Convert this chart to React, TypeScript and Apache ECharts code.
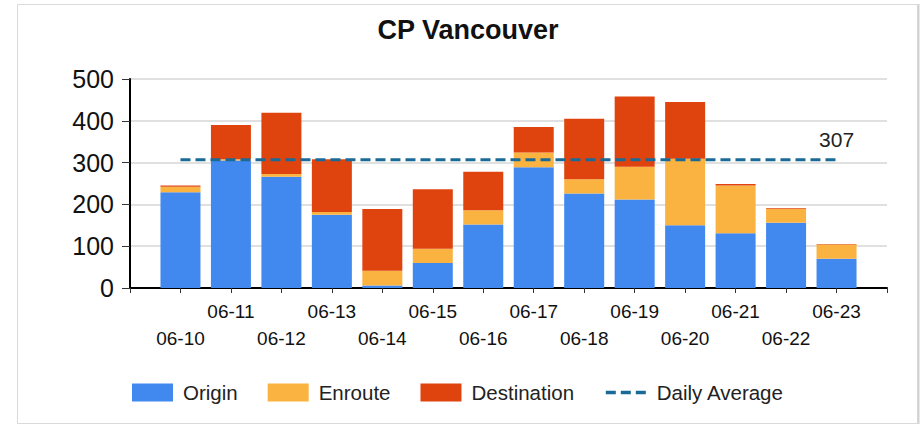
import React, { useEffect, useRef } from 'react';
import * as echarts from 'echarts';

const TITLE = 'CP Vancouver';
const dates = ['06-10', '06-11', '06-12', '06-13', '06-14', '06-15', '06-16', '06-17', '06-18', '06-19', '06-20', '06-21', '06-22', '06-23'];
const origin = [229, 305, 266, 175, 6, 60, 152, 289, 226, 212, 150, 131, 156, 70];
const enroute = [13, 3, 7, 7, 35, 34, 34, 35, 34, 78, 159, 114, 33, 34];
const destination = [3, 82, 146, 126, 148, 142, 92, 61, 145, 168, 136, 4, 2, 1];
const dailyAverage = 307;
const yMin = 0;
const yMax = 500;
const yInterval = 100;

const FONT = '"Liberation Sans", Arial, sans-serif';
const COLORS = { origin: '#4289ef', enroute: '#fab341', destination: '#e0440e', avg: '#1a6a97' };

export default function App() {
  const ref = useRef<HTMLDivElement>(null);

  useEffect(() => {
    if (!ref.current) return;
    const chart = echarts.init(ref.current, null, { renderer: 'svg' });

    const categories = ['', ...dates, ''];
    const pad = (arr: any[]) => ['-', ...arr, '-'];
    const avgData = pad(dates.map(() => dailyAverage));

    const option: any = {
      animation: false,
      backgroundColor: '#fff',
      title: {
        text: TITLE,
        left: 468,
        textAlign: 'center',
        top: 16,
        padding: 0,
        textStyle: { fontFamily: FONT, fontSize: 27, fontWeight: 'bold', color: '#111' },
      },
      graphic: [
        {
          type: 'rect',
          shape: { x: 17.5, y: 4.5, width: 900, height: 419 },
          style: { fill: 'none', stroke: '#dadada', lineWidth: 1 },
          silent: true,
        },
        {
          type: 'line',
          shape: { x1: 918.5, y1: 4, x2: 918.5, y2: 424 },
          style: { stroke: '#d2d2d2', lineWidth: 2 },
          silent: true,
        },
      ],
      legend: {
        left: 132,
        top: 382,
        padding: 0,
        itemWidth: 41,
        itemHeight: 18,
        itemGap: 30,
        textStyle: { fontFamily: FONT, fontSize: 20.5, color: '#222', padding: [0, 0, 0, 5] },
        data: [
          { name: 'Origin', icon: 'rect' },
          { name: 'Enroute', icon: 'rect' },
          { name: 'Destination', icon: 'rect' },
          { name: 'Daily Average', itemStyle: { opacity: 0 }, lineStyle: { width: 3.5 } },
        ],
      },
      grid: { left: 130, right: 33, top: 79, bottom: 137, outerBoundsMode: 'none', containLabel: false },
      xAxis: {
        type: 'category',
        data: categories,
        boundaryGap: false,
        axisLine: { lineStyle: { color: '#000', width: 2 } },
        axisTick: { show: true, interval: 0, length: 5, lineStyle: { color: '#333', width: 1 } },
        axisLabel: {
          interval: 0,
          margin: 10,
          fontFamily: FONT,
          fontSize: 19,
          lineHeight: 27,
          color: '#111',
          formatter: (v: string, i: number) => {
            if (i === 0 || i === categories.length - 1) return '';
            return i % 2 === 0 ? v : '\n' + v;
          },
        },
        splitLine: { show: false },
      },
      yAxis: {
        type: 'value',
        min: yMin,
        max: yMax,
        interval: yInterval,
        axisLine: { show: true, lineStyle: { color: '#000', width: 2 } },
        axisTick: { show: true, length: 8, lineStyle: { color: '#333', width: 1 } },
        axisLabel: { fontFamily: FONT, fontSize: 25, color: '#111', margin: 16 },
        splitLine: { show: true, lineStyle: { color: '#e0e0e0', width: 2 } },
      },
      series: [
        {
          name: 'Origin',
          type: 'bar',
          stack: 'total',
          barWidth: 40,
          data: pad(origin),
          itemStyle: { color: COLORS.origin },
        },
        {
          name: 'Enroute',
          type: 'bar',
          stack: 'total',
          barWidth: 40,
          data: pad(enroute),
          itemStyle: { color: COLORS.enroute },
        },
        {
          name: 'Destination',
          type: 'bar',
          stack: 'total',
          barWidth: 40,
          data: pad(destination),
          itemStyle: { color: COLORS.destination },
        },
        {
          name: 'Daily Average',
          type: 'line',
          data: avgData,
          symbol: 'none',
          z: 5,
          itemStyle: { color: COLORS.avg },
          lineStyle: { color: COLORS.avg, width: 3, type: [10, 5] },
          markPoint: {
            symbol: 'circle',
            symbolSize: 0,
            silent: true,
            data: [{ coord: [dates.length, dailyAverage], value: dailyAverage }],
            label: {
              show: true,
              position: 'top',
              distance: 10,
              color: '#222',
              fontSize: 21,
              fontFamily: FONT,
              formatter: String(dailyAverage),
            },
          },
        },
      ],
    };

    chart.setOption(option);
    return () => chart.dispose();
  }, []);

  return (
    <div
      ref={ref}
      style={{ position: 'absolute', left: 0, top: 0, width: 920, height: 425 }}
    />
  );
}
